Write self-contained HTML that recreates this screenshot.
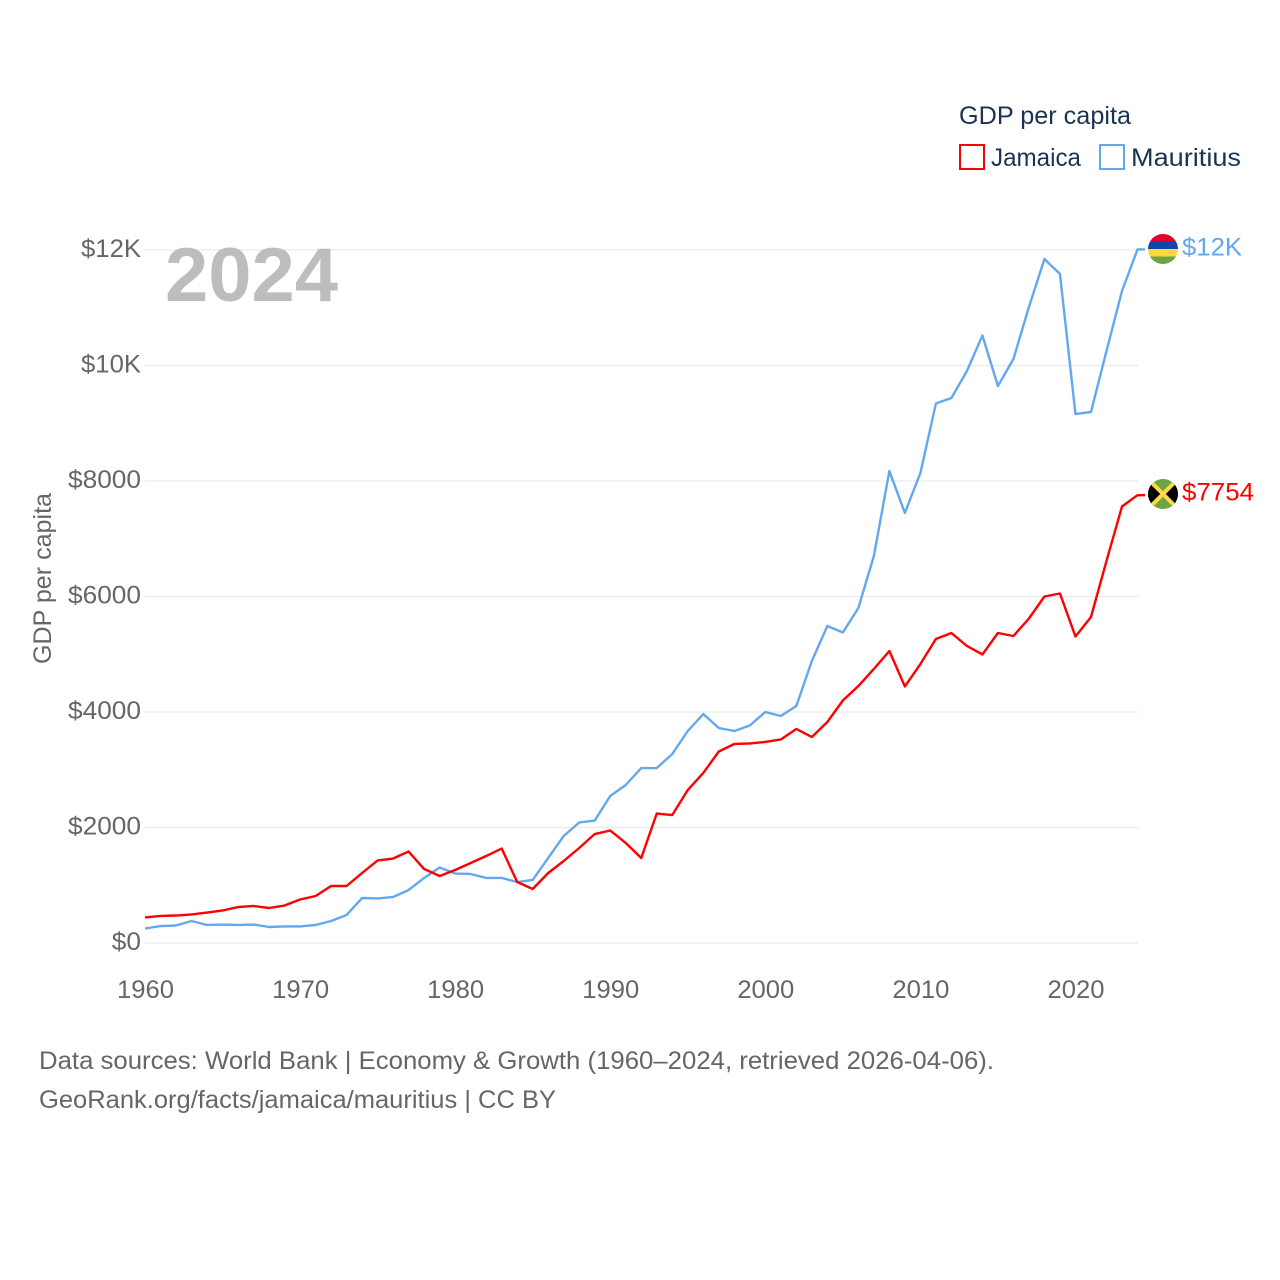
<!DOCTYPE html>
<html lang="en">
<head>
<meta charset="utf-8">
<title>GDP per capita: Jamaica and Mauritius</title>
<style>
html,body{margin:0;padding:0;background:#fff;}
svg{display:block;}
text{font-family:"Liberation Sans",sans-serif;}
</style>
</head>
<body>
<svg id="chart" width="1280" height="1280" viewBox="0 0 1280 1280" xmlns="http://www.w3.org/2000/svg">
  <defs>
    <clipPath id="flag-clip-mu"><circle cx="1163" cy="249" r="15"/></clipPath>
    <clipPath id="flag-clip-jm"><circle cx="1163" cy="494" r="15"/></clipPath>
  </defs>
  <rect x="0" y="0" width="1280" height="1280" fill="#ffffff"/>

  <g id="grid"></g>
  <g id="y-axis"></g>
  <g id="x-axis"></g>

  <text x="165" y="301" font-size="76" font-weight="700" fill="#bdbdbd" textLength="173" lengthAdjust="spacingAndGlyphs">2024</text>

  <text transform="translate(51 664) rotate(-90)" font-size="25" fill="#666666" textLength="171" lengthAdjust="spacingAndGlyphs">GDP per capita</text>

  <g id="series"></g>

  <g clip-path="url(#flag-clip-mu)">
    <rect x="1148" y="234" width="30" height="7.5" fill="#e4002b"/>
    <rect x="1148" y="241.5" width="30" height="7.5" fill="#0f47af"/>
    <rect x="1148" y="249" width="30" height="7.5" fill="#ffd83d"/>
    <rect x="1148" y="256.5" width="30" height="7.5" fill="#6da544"/>
  </g>
  <g clip-path="url(#flag-clip-jm)">
    <rect x="1148" y="479" width="30" height="30" fill="#6da544"/>
    <polygon points="1148,479 1163,494 1148,509" fill="#000000"/>
    <polygon points="1178,479 1163,494 1178,509" fill="#000000"/>
    <line x1="1150" y1="481" x2="1176" y2="507" stroke="#ffda44" stroke-width="4"/>
    <line x1="1176" y1="481" x2="1150" y2="507" stroke="#ffda44" stroke-width="4"/>
  </g>

  <g id="end-labels"></g>

  <g>
    <text x="959" y="124" font-size="25" fill="#1b3353" textLength="172" lengthAdjust="spacingAndGlyphs">GDP per capita</text>
    <rect x="960" y="145" width="24" height="24" fill="none" stroke="#ff0000" stroke-width="2"/>
    <text x="991" y="166" font-size="25" fill="#1b3353" textLength="90" lengthAdjust="spacingAndGlyphs">Jamaica</text>
    <rect x="1100" y="145" width="24" height="24" fill="none" stroke="#63a8ee" stroke-width="2"/>
    <text x="1131" y="166" font-size="25" fill="#1b3353" textLength="110" lengthAdjust="spacingAndGlyphs">Mauritius</text>
  </g>

  <text x="39" y="1069" font-size="25" fill="#666666" textLength="955" lengthAdjust="spacingAndGlyphs">Data sources: World Bank | Economy &amp; Growth (1960–2024, retrieved 2026-04-06).</text>
  <text x="39" y="1108" font-size="25" fill="#666666" textLength="517" lengthAdjust="spacingAndGlyphs">GeoRank.org/facts/jamaica/mauritius | CC BY</text>
</svg>

<script>
const startYear = 1960;
const endYear = 2024;
const jamaicaValues = [442,468,476,494,528,563,623,641,606,649,753,814,987,987,1212,1429,1463,1584,1281,1160,1264,1385,1506,1636,1056,935,1212,1420,1645,1887,1948,1732,1472,2242,2216,2649,2944,3316,3446,3455,3481,3524,3706,3567,3827,4199,4450,4745,5056,4442,4831,5264,5368,5143,4996,5368,5316,5619,6000,6052,5307,5645,6615,7558,7754];
const mauritiusValues = [251,294,303,381,312,320,312,320,277,286,286,312,381,485,779,771,797,918,1126,1307,1203,1195,1126,1126,1056,1091,1472,1853,2087,2121,2545,2736,3030,3030,3273,3671,3965,3723,3671,3766,4000,3931,4104,4883,5489,5377,5801,6701,8173,7446,8139,9342,9437,9905,10519,9645,10113,11013,11844,11584,9160,9195,10251,11290,12009];
const yTickValues = [0,2000,4000,6000,8000,10000,12000];
const yTickLabels = ["$0","$2000","$4000","$6000","$8000","$10K","$12K"];
const xTickYears = [1960,1970,1980,1990,2000,2010,2020];
const jamaicaEndLabel = "$7754";
const mauritiusEndLabel = "$12K";

const NS = "http://www.w3.org/2000/svg";
const plotLeft = 145, plotRight = 1138, dataRight = 1137.5, plotTop = 250, plotBottom = 943, yDomainMax = 12000;

function xScale(year) {
  return plotLeft + (year - startYear) * (dataRight - plotLeft) / (endYear - startYear);
}
function yScale(value) {
  return plotBottom - value * (plotBottom - plotTop) / yDomainMax;
}
function makeText(parent, str, x, y, size, fill, anchor, width) {
  const t = document.createElementNS(NS, "text");
  t.textContent = str;
  t.setAttribute("x", x);
  t.setAttribute("y", y);
  t.setAttribute("font-size", size);
  t.setAttribute("fill", fill);
  t.setAttribute("text-anchor", anchor);
  t.setAttribute("textLength", width);
  t.setAttribute("lengthAdjust", "spacingAndGlyphs");
  parent.appendChild(t);
  return t;
}

const gridGroup = document.getElementById("grid");
const yAxisGroup = document.getElementById("y-axis");
const xAxisGroup = document.getElementById("x-axis");
const seriesGroup = document.getElementById("series");
const endGroup = document.getElementById("end-labels");

yTickValues.forEach(function (value, i) {
  const y = yScale(value);
  const line = document.createElementNS(NS, "line");
  line.setAttribute("x1", plotLeft);
  line.setAttribute("x2", plotRight);
  line.setAttribute("y1", y);
  line.setAttribute("y2", y);
  line.setAttribute("stroke", "#ebebeb");
  line.setAttribute("stroke-width", "1.2");
  
  
  gridGroup.appendChild(line);

  const label = yTickLabels[i];
  const charWidth = label.indexOf("K") >= 0 ? 15 : 14.6;
  const el = makeText(yAxisGroup, label, 141, y + 7, 25, "#666666", "end", label.length * charWidth);
  
  
});

xTickYears.forEach(function (year) {
  const el = makeText(xAxisGroup, String(year), xScale(year) + 0.5, 998, 25, "#666666", "middle", 57);
  
  
});

function linePoints(values) {
  return values.map(function (v, i) {
    return xScale(startYear + i).toFixed(2) + "," + yScale(v).toFixed(2);
  });
}

const jamaicaPts = linePoints(jamaicaValues);
const mauritiusPts = linePoints(mauritiusValues);
jamaicaPts.push("1145," + yScale(jamaicaValues[jamaicaValues.length - 1]).toFixed(2));
mauritiusPts.push("1145," + yScale(mauritiusValues[mauritiusValues.length - 1]).toFixed(2));

const mauritiusLine = document.createElementNS(NS, "polyline");
mauritiusLine.setAttribute("points", mauritiusPts.join(" "));
mauritiusLine.setAttribute("fill", "none");
mauritiusLine.setAttribute("stroke", "#63a8ee");
mauritiusLine.setAttribute("stroke-width", "2.4");
mauritiusLine.setAttribute("stroke-linejoin", "round");


seriesGroup.appendChild(mauritiusLine);

const jamaicaLine = document.createElementNS(NS, "polyline");
jamaicaLine.setAttribute("points", jamaicaPts.join(" "));
jamaicaLine.setAttribute("fill", "none");
jamaicaLine.setAttribute("stroke", "#ff0000");
jamaicaLine.setAttribute("stroke-width", "2.4");
jamaicaLine.setAttribute("stroke-linejoin", "round");


seriesGroup.appendChild(jamaicaLine);

const muEnd = makeText(endGroup, mauritiusEndLabel, 1182, 255.5, 25, "#63a8ee", "start", 60);



const jmEnd = makeText(endGroup, jamaicaEndLabel, 1182, 500.5, 25, "#ff0000", "start", 72);


</script>
</body>
</html>
